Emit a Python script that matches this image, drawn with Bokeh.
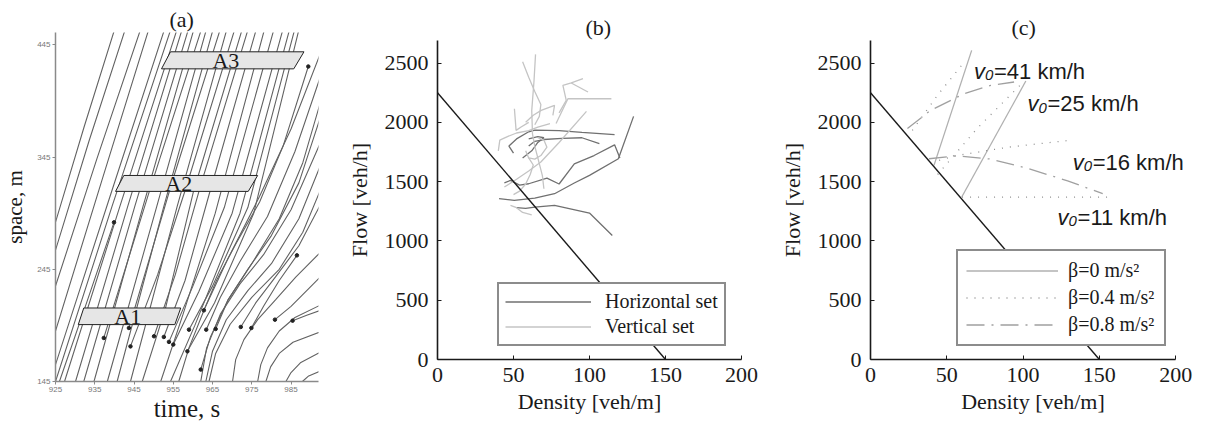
from bokeh.plotting import figure
from bokeh.layouts import row
from bokeh.models import Range1d, FixedTicker, Legend, LegendItem, Label
from bokeh.core.properties import value
from bokeh.embed import file_html
from bokeh.resources import INLINE

SERIF = "Liberation Serif"
SANS = "Liberation Sans"

# ---------------- (a) vehicle trajectories: time [s] vs space [m] ----------------
traj_time = [
    [925.0, 932.3, 939.9],
    [925.0, 933.6, 942.6],
    [925.0, 935.6, 946.5],
    [925.0, 936.8, 948.6],
    [925.0, 938.8, 952.6],
    [925.0, 939.4, 954.2],
    [926.0, 933.0, 939.9],
    [927.3, 941.4, 955.8],
    [930.1, 943.4, 957.1],
    [932.2, 945.2, 958.7],
    [934.8, 947.3, 960.1],
    [937.3, 949.4, 962.0],
    [938.2, 950.8, 963.3],
    [940.7, 952.6, 965.0],
    [943.7, 954.9, 966.8],
    [944.1, 956.0, 968.5],
    [944.1, 951.0, 958.0, 970.5],
    [947.1, 953.0, 960.2, 972.4],
    [950.1, 955.5, 962.0, 973.9],
    [952.6, 958.0, 964.4, 976.0],
    [951.8, 957.5, 965.7, 978.1],
    [953.9, 960.0, 968.0, 980.5],
    [955.0, 961.5, 970.0, 982.8],
    [954.3, 960.5, 972.0, 984.5],
    [959.0, 965.0, 974.0, 985.8],
    [958.6, 965.5, 975.5, 986.9],
    [956.4, 959.0, 963.0, 969.0, 977.0, 985.0, 993.0],
    [962.8, 966.0, 971.0, 977.0, 983.0, 989.4],
    [963.4, 967.0, 972.0, 979.0, 986.0, 993.0],
    [962.0, 964.5, 969.0, 975.0, 982.0, 988.0, 993.0],
    [965.8, 969.0, 974.0, 980.0, 987.0, 993.0],
    [962.0, 963.5, 967.0, 972.0, 978.0, 985.0, 993.0],
    [963.3, 965.0, 968.5, 974.0, 980.0, 987.0, 993.0],
    [964.1, 965.8, 969.5, 975.0, 982.0, 988.0, 993.0],
    [972.2, 976.0, 981.0, 987.0, 993.0],
    [970.1, 970.9, 973.0, 976.5, 981.1, 986.2, 993.0],
    [974.9, 978.0, 982.0, 986.5],
    [976.5, 977.3, 979.0, 982.0, 986.0, 993.0],
    [980.9, 985.0, 989.0, 993.0],
    [978.6, 979.8, 982.0, 985.5, 993.0],
    [985.4, 989.0, 993.0],
    [983.7, 985.0, 987.5, 993.0],
    [987.9, 989.5, 993.0],
]
traj_space = [
    [287, 372, 457],
    [262, 360, 457],
    [230, 344, 457],
    [190, 324, 457],
    [160, 309, 457],
    [145, 301, 457],
    [145, 216, 286.8],
    [145, 301, 457],
    [145, 301, 457],
    [145, 301, 457],
    [145, 301, 457],
    [183.8, 320, 457],
    [145, 301, 457],
    [145, 301, 457],
    [192.7, 325, 457],
    [145, 301, 457],
    [176.3, 240, 315, 457],
    [145, 210, 315, 457],
    [185.3, 240, 320, 457],
    [184.7, 235, 315, 457],
    [145, 205, 295, 457],
    [180.3, 230, 300, 457],
    [177.9, 225, 295, 457],
    [145, 195, 295, 457],
    [191.2, 230, 300, 457],
    [171.9, 215, 295, 457],
    [145, 175, 210, 255, 310, 370, 442],
    [208.4, 235, 268, 305, 355, 425.7],
    [191.2, 220, 252, 292, 350, 422],
    [155.6, 185, 218, 250, 290, 340, 400],
    [191.8, 218, 245, 275, 322, 386],
    [145, 175, 205, 232, 258, 298, 362],
    [145, 172, 200, 226, 250, 290, 342],
    [145, 170, 196, 220, 245, 278, 320],
    [193.6, 215, 238, 266, 306],
    [145, 164.5, 182.3, 200.1, 217.9, 238, 262],
    [192.7, 212, 235, 257.4],
    [145, 160, 175, 190, 202, 214],
    [200.1, 212, 226, 240],
    [145, 158, 170, 180, 190],
    [199.2, 204, 209],
    [145, 153, 162, 172],
    [145, 150, 155],
]
# points where a trajectory begins or ends inside the window
dot_time = [937.3, 943.7, 944.1, 950.1, 952.6, 953.9, 955.0, 959.0, 958.6, 962.0,
            962.8, 963.4, 965.8, 972.2, 974.9, 980.9, 985.4, 939.9, 986.5, 989.4]
dot_space = [183.8, 192.7, 176.3, 185.3, 184.7, 180.3, 177.9, 191.2, 171.9, 155.6,
             208.4, 191.2, 191.8, 193.6, 192.7, 200.1, 199.2, 286.8, 257.4, 425.7]

# measurement areas
zone_names = ["A1", "A2", "A3"]
zone_time = [[930.8, 932.2, 956.9, 955.4],
             [940.3, 942.4, 976.5, 974.1],
             [952.0, 954.3, 988.3, 985.7]]
zone_space = [[195.7, 210.5, 210.5, 195.7],
              [314.4, 328.6, 328.6, 314.4],
              [423.6, 438.8, 438.8, 423.6]]
zone_label_time = [943.4, 956.4, 968.4]
zone_label_space = [202.8, 321.2, 431.0]

time_ticks = [925, 935, 945, 955, 965, 975, 985]
space_ticks = [145, 245, 345, 445]

# ---------------- (b) measured flow-density paths ----------------
horiz_k = [
    [40.5, 50.5, 64, 77, 90, 100, 119, 129],
    [44, 48, 54, 60, 72, 80, 90, 103, 116.5, 120],
    [52, 58, 64, 77, 100, 115],
    [50, 47, 52, 60, 64, 80, 95, 116.5],
    [60, 64, 70, 82, 95, 106.5],
    [56, 62, 66, 70, 66, 60],
]
horiz_q = [
    [1356, 1342, 1361, 1398, 1488, 1553, 1693, 2050],
    [1490, 1510, 1470, 1482, 1530, 1480, 1650, 1720, 1810, 1700],
    [1280, 1275, 1285, 1300, 1235, 1046],
    [1740, 1800, 1860, 1920, 1935, 1930, 1915, 1896],
    [1800, 1840, 1855, 1865, 1870, 1820],
    [1700, 1760, 1830, 1870, 1880, 1860],
]
vert_k = [
    [64.5, 63.5, 62, 62.5, 64, 66, 69, 70],
    [56, 60, 64, 68, 67, 64],
    [80, 84.7, 82.5, 88, 95.7],
    [88, 99],
    [78, 85.8, 114.4],
    [58, 63, 68.2, 77, 75.9],
    [40, 41, 46, 52, 60, 66, 74],
    [48, 52, 56, 62],
    [44, 52, 60, 68, 80, 98],
    [58, 60, 64, 68, 72, 70, 66],
    [50, 54, 58, 61, 63, 60],
    [50.6, 51.7, 55, 60],
]
vert_q = [
    [2573, 2350, 2100, 1900, 1800, 1700, 1550, 1440],
    [2510, 2380, 2260, 2150, 2050, 1980],
    [2080, 2185, 2312, 2332, 2368],
    [2332, 2256],
    [1990, 2199, 2199],
    [2000, 2060, 2101, 2143, 2059],
    [1760, 1850, 1880, 1910, 1930, 1960, 1990],
    [1300, 1280, 1240, 1220],
    [1454, 1520, 1590, 1665, 1830, 2092],
    [1760, 1700, 1690, 1720, 1790, 1850, 1870],
    [1390, 1420, 1480, 1560, 1640, 1700],
    [2115, 1932, 1960, 2000],
]

# congested branch of the fundamental diagram
branch_k = [0, 150]
branch_q = [2250, 0]

density_ticks = [0, 50, 100, 150, 200]
flow_ticks = [0, 500, 1000, 1500, 2000, 2500]

# ---------------- (c) simulated paths for several v0 and beta ----------------
beta0_k = [[41.6, 66.3], [59.8, 101.8]]
beta0_q = [[1637, 2607], [1370, 2348]]
beta04_k = [[27.4, 44, 61.3], [44, 70, 98], [45, 57, 90, 130.3], [60, 100, 158.7]]
beta04_q = [[1932, 2230, 2506], [1560, 1950, 2312], [1680, 1721, 1790, 1848], [1370, 1370, 1370]]
beta08_k = [[24.2, 39.4, 61.3, 78.8, 94.1], [38.3, 56.9, 78.8, 100.7, 129.2, 152.2]]
beta08_q = [[1948, 2101, 2241, 2312, 2340], [1693, 1718, 1690, 1620, 1507, 1398]]

v0_values = ["41", "25", "16", "11"]
v0_label_k = [67.8, 102.9, 132.5, 122.6]
v0_label_q = [2432, 2157, 1665, 1201]

INK = "#1a1a1a"


def base_style(p, title_offset):
    p.grid.visible = False
    p.outline_line_color = None
    p.background_fill_color = "white"
    p.border_fill_color = "white"
    p.title.text_font = SERIF
    p.title.text_font_size = "22px"
    p.title.text_font_style = "normal"
    p.title.text_color = INK
    p.title.align = "left"
    p.title.offset = title_offset
    p.title.standoff = 2


# ---------------- panel (a) ----------------
pa = figure(width=330, height=424, title="(a)",
            x_range=Range1d(925, 992), y_range=Range1d(145, 456),
            output_backend="svg", toolbar_location=None, frame_align=False,
            min_border_left=55, min_border_right=12,
            min_border_top=32, min_border_bottom=42)
base_style(pa, 114)
pa.multi_line(xs=traj_time, ys=traj_space, line_color="#626262", line_width=1.1)
pa.scatter(dot_time, dot_space, size=3.5, color="#222222")
pa.patches(xs=zone_time, ys=zone_space, fill_color="#e6e6e6",
           line_color="#222222", line_width=1)
pa.text(x=zone_label_time, y=zone_label_space, text=zone_names,
        text_font=value(SERIF), text_font_size="22px", text_color=INK,
        text_align="center", text_baseline="middle")
pa.xaxis.ticker = FixedTicker(ticks=time_ticks)
pa.yaxis.ticker = FixedTicker(ticks=space_ticks)
pa.xaxis.axis_label = "time, s"
pa.yaxis.axis_label = "space, m"
pa.xaxis.axis_label_text_font_size = "25px"
pa.yaxis.axis_label_text_font_size = "21px"
pa.axis.axis_label_text_font = SERIF
pa.axis.axis_label_text_font_style = "normal"
pa.axis.axis_label_text_color = INK
pa.axis.major_label_text_font = SANS
pa.axis.major_label_text_font_size = "8px"
pa.axis.major_label_text_color = "#777777"
pa.axis.axis_line_color = "#8a8a8a"
pa.axis.axis_line_width = 1.5
pa.axis.major_tick_line_color = "#8a8a8a"
pa.axis.major_tick_in = 0
pa.axis.major_tick_out = 3
pa.axis.minor_tick_line_color = None
pa.axis.major_label_standoff = 2
pa.xaxis.axis_label_standoff = 0
pa.yaxis.axis_label_standoff = 7


def flow_axes(p):
    p.xaxis.ticker = FixedTicker(ticks=density_ticks)
    p.yaxis.ticker = FixedTicker(ticks=flow_ticks)
    p.xaxis.bounds = (0, 200)
    p.xaxis.axis_label = "Density [veh/m]"
    p.yaxis.axis_label = "Flow [veh/h]"
    p.axis.axis_label_text_font = SERIF
    p.axis.axis_label_text_font_size = "22px"
    p.axis.axis_label_text_font_style = "normal"
    p.axis.axis_label_text_color = INK
    p.axis.major_label_text_font = SERIF
    p.axis.major_label_text_font_size = "22px"
    p.axis.major_label_text_color = INK
    p.axis.axis_line_color = INK
    p.axis.axis_line_width = 1.6
    p.axis.major_tick_line_color = INK
    p.axis.major_tick_in = 4
    p.axis.major_tick_out = 0
    p.axis.minor_tick_line_color = None
    p.xaxis.major_label_standoff = 8
    p.yaxis.major_label_standoff = 9
    p.xaxis.axis_label_standoff = 4
    p.yaxis.axis_label_standoff = 10


# ---------------- panel (b) ----------------
pb = figure(width=430, height=424, title="(b)",
            x_range=Range1d(0, 200), y_range=Range1d(0, 2690),
            output_backend="svg", toolbar_location=None, frame_align=False,
            min_border_left=107, min_border_right=19,
            min_border_top=40, min_border_bottom=65)
base_style(pb, 148)
flow_axes(pb)
rh = pb.multi_line(xs=horiz_k, ys=horiz_q, line_color="#707070", line_width=1.3)
rv = pb.multi_line(xs=vert_k, ys=vert_q, line_color="#c4c4c4", line_width=1.3)
pb.line(branch_k, branch_q, line_color=INK, line_width=1.4)
leg_b = Legend(items=[LegendItem(label="Horizontal set", renderers=[rh]),
                      LegendItem(label="Vertical set", renderers=[rv])],
               location=(60, 13), orientation="vertical",
               label_text_font=SERIF, label_text_font_size="20px",
               label_text_color=INK,
               glyph_width=86, glyph_height=19, label_height=19,
               label_standoff=14, label_width=112,
               padding=6, spacing=2, margin=0,
               border_line_color=INK, border_line_width=2,
               background_fill_color="white", background_fill_alpha=1.0)
pb.add_layout(leg_b)

# ---------------- panel (c) ----------------
# the frame runs a little past 200 so the v0 labels are not cut off
pc = figure(width=445, height=424, title="(c)",
            x_range=Range1d(0, 213), y_range=Range1d(0, 2690),
            output_backend="svg", toolbar_location=None, frame_align=False,
            min_border_left=110, min_border_right=10,
            min_border_top=40, min_border_bottom=65)
base_style(pc, 141)
flow_axes(pc)
r0 = pc.multi_line(xs=beta0_k, ys=beta0_q, line_color="#b0b0b0", line_width=1.3)
r4 = pc.multi_line(xs=beta04_k, ys=beta04_q, line_color="#8f8f8f", line_width=1.3,
                   line_dash="1 7")
r8 = pc.multi_line(xs=beta08_k, ys=beta08_q, line_color="#a0a0a0", line_width=1.3,
                   line_dash="18 7 2 7")
pc.line(branch_k, branch_q, line_color=INK, line_width=1.4)

for v0, k, q in zip(v0_values, v0_label_k, v0_label_q):
    pc.add_layout(Label(x=k, y=q, text="v", text_font=SANS, text_font_size="22px",
                        text_font_style="italic", text_color=INK,
                        text_baseline="alphabetic"))
    pc.add_layout(Label(x=k, y=q, x_offset=11, y_offset=-4, text="0",
                        text_font=SANS, text_font_size="15px",
                        text_font_style="italic", text_color=INK,
                        text_baseline="alphabetic"))
    pc.add_layout(Label(x=k, y=q, x_offset=20, text="=" + v0 + " km/h",
                        text_font=SANS, text_font_size="22px", text_color=INK,
                        text_baseline="alphabetic"))

leg_c = Legend(items=[LegendItem(label="β=0 m/s²", renderers=[r0]),
                      LegendItem(label="β=0.4 m/s²", renderers=[r4]),
                      LegendItem(label="β=0.8 m/s²", renderers=[r8])],
               location=(86, 13), orientation="vertical",
               label_text_font=SERIF, label_text_font_size="20px",
               label_text_color=INK,
               glyph_width=92, glyph_height=19, label_height=19,
               label_standoff=10, label_width=88,
               padding=8, spacing=4, margin=0,
               border_line_color=INK, border_line_width=2,
               background_fill_color="white", background_fill_alpha=1.0)
pc.add_layout(leg_c)

layout = row(pa, pb, pc)
open("out.html", "w").write(file_html(layout, INLINE))
